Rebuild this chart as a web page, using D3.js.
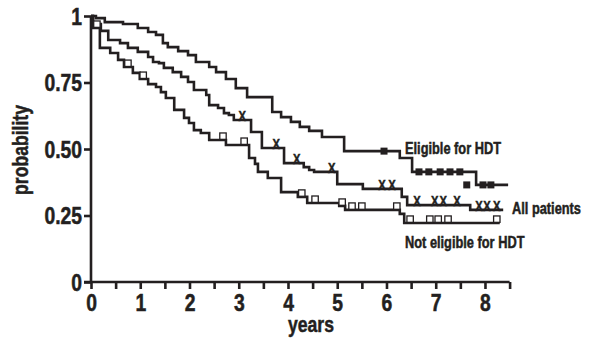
<!DOCTYPE html>
<html>
<head>
<meta charset="utf-8">
<script src="https://cdn.jsdelivr.net/npm/d3@7"></script>
<style>
  body { margin: 0; background: #fff; }
  text { font-family: "Liberation Sans", Arial, sans-serif; font-weight: bold; fill: #231f20; stroke: #231f20; stroke-width: 0.5px; }
</style>
</head>
<body>
<div id="chart-area"></div>
<script>
// Kaplan-Meier curves, times in years, survival after each drop
const eligibleTimes = [0.10, 0.28, 0.65, 0.95, 1.16, 1.32, 1.46, 1.56, 1.77, 1.97, 2.13, 2.40, 2.54, 2.74, 2.94, 3.17, 3.68, 3.86, 4.06, 4.24, 4.43, 4.69, 5.14, 6.27, 6.52, 7.82];
const eligibleSurv  = [0.992, 0.977, 0.970, 0.955, 0.940, 0.929, 0.898, 0.883, 0.868, 0.853, 0.827, 0.808, 0.789, 0.763, 0.729, 0.695, 0.639, 0.620, 0.602, 0.583, 0.568, 0.545, 0.492, 0.466, 0.414, 0.365];
const eligibleCensor = [5.95, 6.66, 6.86, 7.09, 7.29, 7.49, 7.96, 8.12];
const eligibleStray = [[7.63, 0.365]];
const eligibleEnd = 8.47;

const allTimes = [0.04, 0.20, 0.35, 0.59, 0.75, 0.95, 1.16, 1.26, 1.38, 1.48, 1.66, 1.83, 1.97, 2.09, 2.34, 2.40, 2.58, 2.70, 2.80, 2.90, 3.25, 3.47, 3.92, 4.32, 4.43, 4.53, 5.00, 5.52, 6.31, 6.42, 7.70];
const allSurv  = [0.970, 0.944, 0.910, 0.898, 0.880, 0.865, 0.846, 0.827, 0.823, 0.805, 0.789, 0.771, 0.752, 0.722, 0.703, 0.665, 0.654, 0.635, 0.628, 0.609, 0.564, 0.504, 0.447, 0.432, 0.421, 0.414, 0.368, 0.350, 0.320, 0.289, 0.271];
const allCensor = [3.07, 3.76, 4.18, 4.89, 5.91, 6.11, 6.62, 6.98, 7.15, 7.43, 7.88, 8.04, 8.24];
const allEnd = 8.37;

const notTimes = [0.04, 0.18, 0.39, 0.55, 0.67, 0.85, 0.99, 1.16, 1.32, 1.42, 1.52, 1.69, 1.89, 1.99, 2.09, 2.23, 2.40, 2.74, 3.21, 3.33, 3.39, 3.59, 3.86, 4.20, 4.39, 5.04, 5.16, 6.27, 6.36];
const notSurv  = [0.955, 0.880, 0.861, 0.835, 0.808, 0.786, 0.763, 0.744, 0.733, 0.714, 0.692, 0.647, 0.617, 0.598, 0.571, 0.560, 0.534, 0.515, 0.466, 0.444, 0.414, 0.391, 0.338, 0.320, 0.297, 0.286, 0.271, 0.256, 0.222];
const notCensor = [0.12, 0.75, 1.06, 2.68, 3.11, 4.28, 4.55, 5.10, 5.30, 5.50, 6.21, 6.48, 6.88, 7.05, 7.25, 8.24];
const notEnd = 8.30;

const xTicks = [0, 1, 2, 3, 4, 5, 6, 7, 8];
const xMinor = [0.5, 1.5, 2.5, 3.5, 4.5, 5.5, 6.5, 7.5, 8.5];
const yTicks = [0, 0.25, 0.5, 0.75, 1];
const yLabels = ["0", "0.25", "0.50", "0.75", "1"];

const W = 598, H = 338;
const ink = "#231f20";

const svg = d3.select("#chart-area").append("svg")
  .attr("width", W).attr("height", H);

const x = d3.scaleLinear().domain([0, 8.5]).range([91, 509.6]);
const y = d3.scaleLinear().domain([0, 1]).range([282, 16]);

// squeeze glyphs to look like a condensed face
function narrow(sel, k) {
  sel.each(function() {
    const len = this.getComputedTextLength();
    d3.select(this).attr("textLength", len * k).attr("lengthAdjust", "spacingAndGlyphs");
  });
}

// axes
const xAxis = svg.append("g").attr("transform", "translate(0,282)")
  .call(d3.axisBottom(x).tickValues(xTicks.concat(xMinor)).tickSize(7)
    .tickFormat(d => xTicks.includes(d) ? d : ""));
xAxis.select(".domain").attr("d", `M${x(0) - 7},0H${x(8.5)}`);

const yAxis = svg.append("g").attr("transform", "translate(91,0)")
  .call(d3.axisLeft(y).tickValues(yTicks).tickSize(7)
    .tickFormat((d, i) => yLabels[i]));
yAxis.select(".domain").attr("d", `M0,${y(1)}V${y(0)}`);

svg.selectAll(".domain, .tick line")
  .attr("stroke", ink).attr("stroke-width", 2.6);
svg.selectAll(".tick text").attr("font-family", null).attr("fill", ink);
xAxis.selectAll(".tick text").attr("font-size", 23).attr("dy", "0.95em").attr("y", 7);
yAxis.selectAll(".tick text").attr("font-size", 23).attr("dy", "0.36em").attr("x", -9);
narrow(svg.selectAll(".tick text"), 0.84);

// axis titles
svg.append("text")
  .attr("x", 311).attr("y", 332)
  .attr("text-anchor", "middle")
  .attr("font-size", 22)
  .text("years")
  .call(narrow, 0.8);

svg.append("text")
  .attr("transform", "translate(28,150) rotate(-90)")
  .attr("text-anchor", "middle")
  .attr("font-size", 22)
  .text("probability")
  .call(narrow, 0.8);

// curves
function steps(times, surv, end) {
  const pts = [[0, 1]];
  times.forEach((t, i) => pts.push([t, surv[i]]));
  pts.push([end, surv[surv.length - 1]]);
  return pts;
}
function survAt(times, surv, t) {
  let p = 1;
  times.forEach((tt, i) => { if (tt <= t) p = surv[i]; });
  return p;
}

const line = d3.line()
  .x(d => x(d[0])).y(d => y(d[1]))
  .curve(d3.curveStepAfter);

const curves = [
  steps(eligibleTimes, eligibleSurv, eligibleEnd),
  steps(allTimes, allSurv, allEnd),
  steps(notTimes, notSurv, notEnd)
];

svg.selectAll("path.km").data(curves).enter().append("path")
  .attr("class", "km")
  .attr("d", line)
  .attr("fill", "none")
  .attr("stroke", ink)
  .attr("stroke-width", 2.6);

// censor marks: filled squares (eligible)
const elMarks = eligibleCensor.map(t => [t, survAt(eligibleTimes, eligibleSurv, t)]).concat(eligibleStray);
svg.selectAll("rect.el").data(elMarks).enter().append("rect")
  .attr("class", "el")
  .attr("x", d => x(d[0]) - 3.5).attr("y", d => y(d[1]) - 3.5)
  .attr("width", 7).attr("height", 7)
  .attr("fill", ink);

// open squares (not eligible)
svg.selectAll("rect.ne").data(notCensor).enter().append("rect")
  .attr("class", "ne")
  .attr("x", d => x(d) - 3.2)
  .attr("y", d => y(survAt(notTimes, notSurv, d)) - 7)
  .attr("width", 6.4).attr("height", 6.4)
  .attr("fill", "#fff").attr("stroke", ink).attr("stroke-width", 1.3);

// crosses (all patients)
svg.selectAll("text.cx").data(allCensor).enter().append("text")
  .attr("class", "cx")
  .attr("x", d => x(d))
  .attr("y", d => y(survAt(allTimes, allSurv, d)) + 1)
  .attr("text-anchor", "middle")
  .attr("font-size", 14)
  .text("X")
  .call(narrow, 0.8);

// curve labels
const labels = [
  {text: "Eligible for HDT", x: 405, y: 154},
  {text: "All patients", x: 512, y: 214},
  {text: "Not eligible for HDT", x: 405, y: 248}
];
svg.selectAll("text.lab").data(labels).enter().append("text")
  .attr("class", "lab")
  .attr("x", d => d.x).attr("y", d => d.y)
  .attr("font-size", 16)
  .text(d => d.text)
  .call(narrow, 0.8);
</script>
</body>
</html>
